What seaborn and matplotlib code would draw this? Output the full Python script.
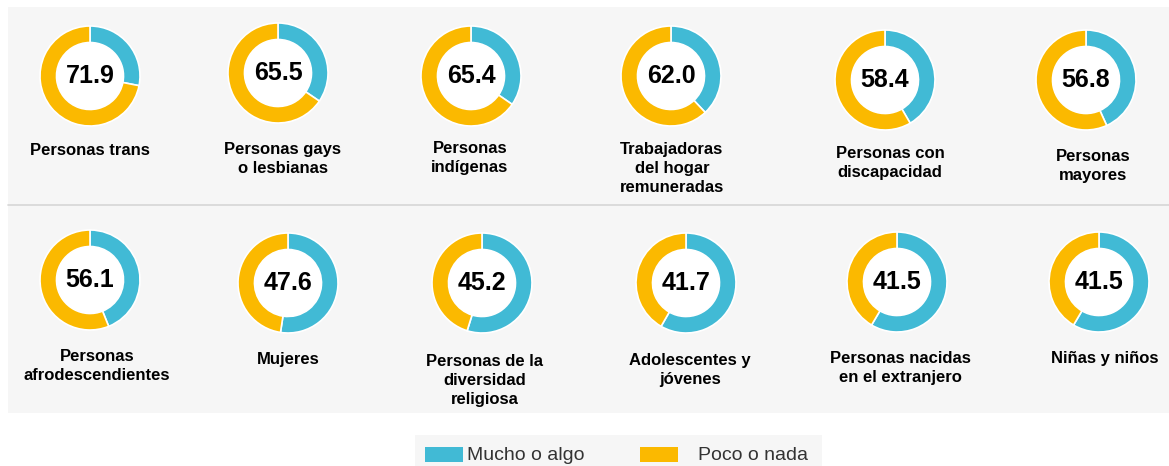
import matplotlib
matplotlib.use("Agg")
import matplotlib.pyplot as plt
from matplotlib.patches import Rectangle
from matplotlib.lines import Line2D
import seaborn as sns

sns.set_style('white')
plt.rcParams['font.family'] = ['Liberation Sans', 'DejaVu Sans']

# --- Data ---
categories = [
    "Personas trans", "Personas gays\no lesbianas", "Personas\nindígenas",
    "Trabajadoras\ndel hogar\nremuneradas", "Personas con\ndiscapacidad", "Personas\nmayores",
    "Personas\nafrodescendientes", "Mujeres", "Personas de la\ndiversidad\nreligiosa",
    "Adolescentes y\njóvenes", "Personas nacidas\nen el extranjero", "Niñas y niños",
]
poco_o_nada = [71.9, 65.5, 65.4, 62.0, 58.4, 56.8, 56.1, 47.6, 45.2, 41.7, 41.5, 41.5]
mucho_o_algo = [28.1, 34.5, 34.6, 38.0, 41.6, 43.2, 43.9, 52.4, 54.8, 58.3, 58.5, 58.5]
series_names = ["Mucho o algo", "Poco o nada"]

# --- Layout (pixels, top-left origin) ---
W, H = 1169, 466
donut_x = [90, 278, 471, 671, 885, 1086, 90, 288, 482, 686, 897, 1099]
donut_y = [76, 73, 76, 76, 80, 80, 280, 283, 283, 283, 282, 282]
label_x = [90, 283, 470, 672, 890, 1093, 97, 288, 485, 690, 900, 1105]
label_top = [143, 142, 141, 142, 146, 149, 349, 352, 354, 353, 351, 351]
R = 50

colors = {"Mucho o algo": "#41BAD5", "Poco o nada": "#FBB900"}


def fx(px):
    return px / W


def fy(py):
    return 1 - py / H


fig = plt.figure(figsize=(W / 100, H / 100), dpi=100)

# panel background and separator
fig.patches.append(Rectangle((fx(8), fy(413)), (W - 8) / W, (413 - 7) / H,
                             transform=fig.transFigure, facecolor="#F6F6F6",
                             edgecolor="none", zorder=-2))
fig.lines.append(Line2D([fx(8), 1], [fy(205), fy(205)], transform=fig.transFigure,
                        color="#D6D6D6", lw=1.2, zorder=-1))

for i, cat in enumerate(categories):
    cx, cy = donut_x[i], donut_y[i]
    ax = fig.add_axes([fx(cx - R), fy(cy + R), 2 * R / W, 2 * R / H])
    ax.pie([mucho_o_algo[i], poco_o_nada[i]],
           colors=[colors[s] for s in series_names],
           startangle=90, counterclock=False, radius=1,
           wedgeprops=dict(width=0.33, edgecolor="white", linewidth=1.2))
    ax.add_patch(plt.Circle((0, 0), 0.67, color="white", zorder=0))
    ax.text(0, 0, f"{poco_o_nada[i]:.1f}", ha="center", va="center",
            fontsize=18, fontweight="bold", color="black")
    ax.set_xlim(-1, 1)
    ax.set_ylim(-1, 1)
    ax.set_aspect("equal")
    ax.axis("off")
    fig.text(fx(label_x[i]), fy(label_top[i]), cat, ha="center", va="top",
             fontsize=12, fontweight="bold", color="black", linespacing=1.33)

# legend (drawn by hand to match spacing of the original)
fig.patches.append(Rectangle((fx(415), fy(466)), (822 - 415) / W, (466 - 435) / H,
                             transform=fig.transFigure, facecolor="#F6F6F6",
                             edgecolor="none", zorder=-2))
legend_patch_x = [425, 640]
legend_text_x = [467, 698]
for s, px, tx in zip(series_names, legend_patch_x, legend_text_x):
    fig.patches.append(Rectangle((fx(px), fy(462)), 38 / W, 15 / H,
                                 transform=fig.transFigure, facecolor=colors[s],
                                 edgecolor="none"))
    fig.text(fx(tx), fy(455), s, ha="left", va="center", fontsize=14, color="#333333")

fig.savefig("out.png", dpi=100)
